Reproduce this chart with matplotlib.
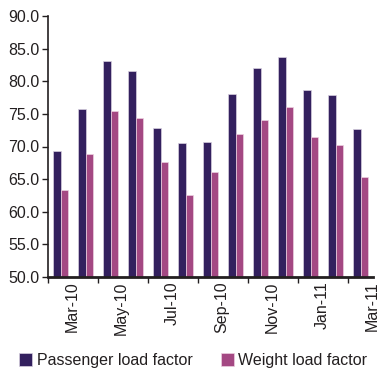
import matplotlib
matplotlib.use("Agg")
import matplotlib.pyplot as plt
import numpy as np

months = ["Mar-10", "Apr-10", "May-10", "Jun-10", "Jul-10", "Aug-10", "Sep-10",
          "Oct-10", "Nov-10", "Dec-10", "Jan-11", "Feb-11", "Mar-11"]
passenger_lf = [69.3, 75.7, 83.1, 81.5, 72.9, 70.5, 70.7, 78.0, 82.1, 83.7, 78.7, 77.9, 72.7]
weight_lf = [63.3, 68.9, 75.5, 74.3, 67.7, 62.5, 66.1, 71.9, 74.1, 76.1, 71.5, 70.3, 65.3]
y_ticks = [50, 55, 60, 65, 70, 75, 80, 85, 90]

plt.rcParams["font.family"] = ["Liberation Sans", "DejaVu Sans"]

c_pass = "#33205e"
c_weight = "#a44883"
c_text = "#231f20"
fs = 11.5

fig = plt.figure(figsize=(3.82, 3.70), dpi=100)
ax = fig.add_axes([48 / 382, 1 - 277 / 370, 325 / 382, 261 / 370])

x = np.arange(len(months))
w = 0.29
ax.bar(x - w / 2, passenger_lf, width=w, color=c_pass, edgecolor="#d8d0e0",
       linewidth=0.5, label="Passenger load factor")
ax.bar(x + w / 2, weight_lf, width=w, color=c_weight, edgecolor="#ecd0e0",
       linewidth=0.5, label="Weight load factor")

ax.set_ylim(50, 90)
ax.set_xlim(-0.5, len(months) - 0.5)
ax.set_yticks(y_ticks)
ax.set_yticklabels([f"{v:.1f}" for v in y_ticks], fontsize=fs, color=c_text)

# tick marks between every other category, labels on alternate months
ax.set_xticks(np.arange(-0.5, len(months), 2), minor=True)
ax.set_xticks(x[::2] + 0.45)
ax.set_xticklabels(months[::2], rotation=90, fontsize=fs, color=c_text)
ax.tick_params(axis="x", which="major", length=0, pad=3)
ax.tick_params(axis="x", which="minor", length=4, width=1, color=c_text)
ax.tick_params(axis="y", length=4, width=1, color=c_text, pad=2)

for s in ["top", "right"]:
    ax.spines[s].set_visible(False)
ax.spines["left"].set_linewidth(1.2)
ax.spines["bottom"].set_linewidth(2)
ax.spines["left"].set_color(c_text)
ax.spines["bottom"].set_color(c_text)

handles, labels = ax.get_legend_handles_labels()
fig.legend(handles, labels, loc="lower left", bbox_to_anchor=(19 / 382, 2 / 370),
           ncol=2, frameon=False, fontsize=fs, handlelength=0.82, handleheight=0.82,
           handletextpad=0.3, columnspacing=1.75, borderpad=0, borderaxespad=0,
           labelcolor=c_text)

fig.savefig("out.png", dpi=100)
